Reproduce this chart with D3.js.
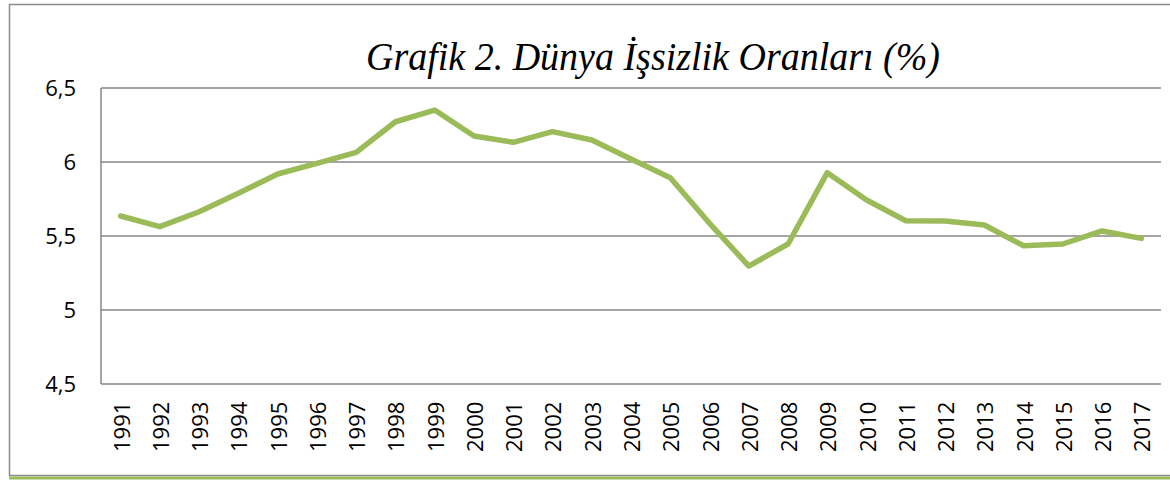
<!DOCTYPE html>
<html>
<head>
<meta charset="utf-8">
<script src="https://cdn.jsdelivr.net/npm/d3@7"></script>
<style>
  body { margin: 0; background: #fff; }
  svg { display: block; }
</style>
</head>
<body>
<svg width="1170" height="480"></svg>
<script>
const years = ["1991","1992","1993","1994","1995","1996","1997","1998","1999","2000",
  "2001","2002","2003","2004","2005","2006","2007","2008","2009","2010",
  "2011","2012","2013","2014","2015","2016","2017"];
const rates = [5.635, 5.563, 5.664, 5.789, 5.919, 5.991, 6.065, 6.272, 6.351, 6.176,
  6.133, 6.205, 6.149, 6.020, 5.894, 5.586, 5.297, 5.446, 5.928, 5.743,
  5.603, 5.601, 5.574, 5.434, 5.446, 5.534, 5.484];
const yTicks = [4.5, 5, 5.5, 6, 6.5];
const title = "Grafik 2. Dünya İşsizlik Oranları (%)";

const svg = d3.select("svg");
const margin = {top: 88, right: 9, bottom: 96, left: 101};
const width = 1170 - margin.left - margin.right;
const height = 480 - margin.top - margin.bottom;

// outer frame
svg.append("rect")
  .attr("x", 9.5).attr("y", 4.5)
  .attr("width", 1170).attr("height", 471)
  .attr("fill", "none").attr("stroke", "#8c8c8c").attr("stroke-width", 1.5);
svg.append("line")
  .attr("x1", 9).attr("x2", 1170).attr("y1", 478).attr("y2", 478)
  .attr("stroke", "#9BBB59").attr("stroke-width", 3);

svg.append("text")
  .attr("transform", "translate(653,70) scale(1,1.08)")
  .attr("text-anchor", "middle")
  .style("font-family", "'Liberation Serif', 'Times New Roman', serif")
  .style("font-style", "italic")
  .style("font-size", "38px")
  .text(title);

const g = svg.append("g").attr("transform", `translate(${margin.left},${margin.top})`);

const x = d3.scaleBand().domain(years).range([0, width]);
const y = d3.scaleLinear().domain([4.5, 6.5]).range([height, 0]);

// gridlines
g.selectAll(".grid")
  .data(yTicks)
  .join("line")
  .attr("x1", 0).attr("x2", width)
  .attr("y1", d => y(d)).attr("y2", d => y(d))
  .attr("stroke", "#878787").attr("stroke-width", 1.5);

g.append("line")
  .attr("x1", 0).attr("x2", 0).attr("y1", 0).attr("y2", height)
  .attr("stroke", "#878787").attr("stroke-width", 1.5);

// y labels
g.selectAll(".ylab")
  .data(yTicks)
  .join("text")
  .attr("x", -25).attr("y", d => y(d) + 8)
  .attr("text-anchor", "end")
  .style("font-family", "'Open Sans', sans-serif")
  .style("font-size", "22px")
  .text(d => d3.format(".1~f")(d).replace(".", ","));

// x labels (vertical)
g.selectAll(".xlab")
  .data(years)
  .join("text")
  .attr("transform", d => `translate(${x(d) + x.bandwidth() / 2 + 9},${height + 68}) rotate(-90)`)
  .attr("text-anchor", "start")
  .style("font-family", "'Open Sans', sans-serif")
  .style("font-size", "22px")
  .text(d => d);

const line = d3.line()
  .x((d, i) => x(years[i]) + x.bandwidth() / 2)
  .y(d => y(d));

g.append("path")
  .datum(rates)
  .attr("fill", "none")
  .attr("stroke", "#9BBB59")
  .attr("stroke-width", 5.5)
  .attr("stroke-linejoin", "round")
  .attr("stroke-linecap", "round")
  .attr("d", line);
</script>
</body>
</html>
